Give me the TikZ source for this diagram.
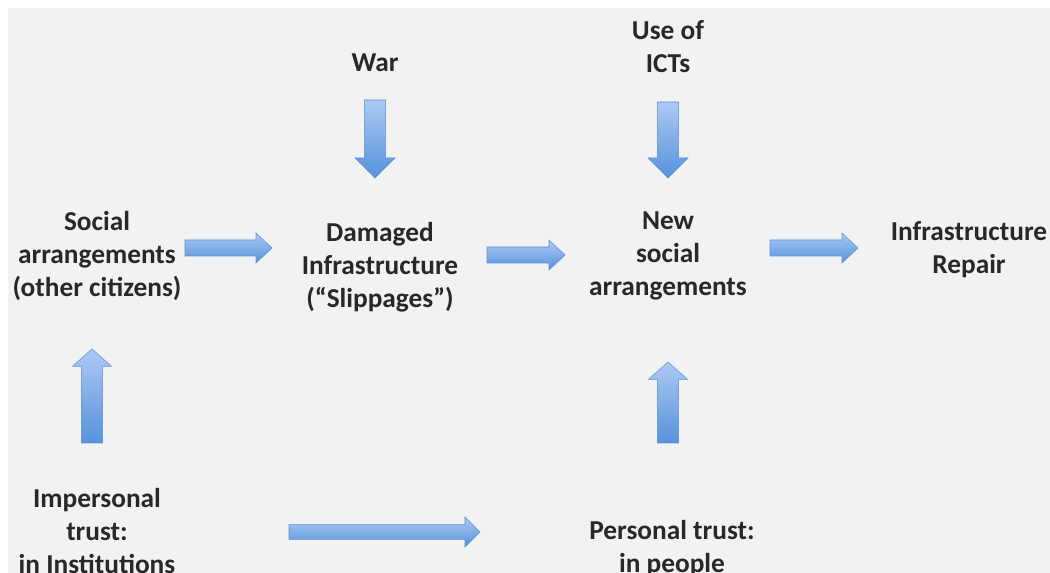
\documentclass[tikz,border=0pt]{standalone}
\usepackage{fontspec}
\setmainfont{Carlito}
\usetikzlibrary{calc}

\definecolor{panel}{RGB}{242,242,242}
\definecolor{ink}{RGB}{40,40,40}
\definecolor{arrowtop}{RGB}{172,201,243}
\definecolor{arrowbottom}{RGB}{86,146,220}
\definecolor{arrowedge}{RGB}{96,146,212}

\tikzset{
  label text/.style={font=\bfseries\fontsize{20.5pt}{24.75pt}\selectfont,
    text=ink, align=center, inner sep=0pt},
  block arrow/.style={top color=arrowtop, bottom color=arrowbottom,
    draw=arrowedge, line width=0.4pt, line join=miter},
  block shadow/.style={fill=black, opacity=0.12}
}

% block arrow from #1 to #2: shaft half width #3, head half width #4, head length #5
\newcommand\blockarrow[5]{%
  \coordinate (ba-s1) at ($(#1)!#3!90:(#2)$);
  \coordinate (ba-s2) at ($(#1)!#3!-90:(#2)$);
  \coordinate (ba-h) at ($(#2)!#5!(#1)$);
  \coordinate (ba-h1) at ($(ba-h)!#3!-90:(#2)$);
  \coordinate (ba-h2) at ($(ba-h)!#4!-90:(#2)$);
  \coordinate (ba-h3) at ($(ba-h)!#4!90:(#2)$);
  \coordinate (ba-h4) at ($(ba-h)!#3!90:(#2)$);
  \fill[block shadow, xshift=0.6pt, yshift=-1.5pt]
    (ba-s1) -- (ba-h4) -- (ba-h3) -- (#2) -- (ba-h2) -- (ba-h1) -- (ba-s2) -- cycle;
  \shade[block arrow]
    (ba-s1) -- (ba-h4) -- (ba-h3) -- (#2) -- (ba-h2) -- (ba-h1) -- (ba-s2) -- cycle;
}

\begin{document}
\begin{tikzpicture}[x=0.75pt, y=-0.75pt]
  \useasboundingbox (0,0) rectangle (1050,573);
  \clip (0,0) rectangle (1050,573);
  \fill[white] (0,0) rectangle (1050,573);
  \fill[panel] (8,8) rectangle (1050,573);

  % labels
  \node[label text] (war) at (375,63) {War};
  \node[label text] (icts) at (668,47) {Use of\\ICTs};
  \node[label text] (social) at (97,256) {Social\\arrangements\\(other citizens)};
  \node[label text] (damaged) at (380,267) {Damaged\\Infrastructure\\(“Slippages”)};
  \node[label text] (newsocial) at (668,256) {New\\social\\arrangements};
  \node[label text] (repair) at (969,250) {Infrastructure\\Repair};
  \node[label text] (impersonal) at (97,531) {Impersonal\\trust:\\in Institutions};
  \node[label text] (personal) at (672,549) {Personal trust:\\in people};

  % arrow end points
  \coordinate (war-s) at (375,100);     \coordinate (war-e) at (375,178);
  \coordinate (icts-s) at (668,102);    \coordinate (icts-e) at (668,178);
  \coordinate (soc-s) at (185,248);     \coordinate (soc-e) at (272,248);
  \coordinate (dam-s) at (487,255);     \coordinate (dam-e) at (565,255);
  \coordinate (new-s) at (770,248);     \coordinate (new-e) at (858,248);
  \coordinate (imp-s) at (92,443);      \coordinate (imp-e) at (92,349);
  \coordinate (per-s) at (668,443);     \coordinate (per-e) at (668,362);
  \coordinate (trust-s) at (289,532);   \coordinate (trust-e) at (480,532);

  \blockarrow{war-s}{war-e}{7.9pt}{15pt}{15pt}
  \blockarrow{icts-s}{icts-e}{7.9pt}{15pt}{15pt}
  \blockarrow{soc-s}{soc-e}{6pt}{11.25pt}{12pt}
  \blockarrow{dam-s}{dam-e}{6pt}{11.25pt}{12pt}
  \blockarrow{new-s}{new-e}{6pt}{11.25pt}{12pt}
  \blockarrow{imp-s}{imp-e}{7.9pt}{14.6pt}{13pt}
  \blockarrow{per-s}{per-e}{7.9pt}{14.6pt}{13pt}
  \blockarrow{trust-s}{trust-e}{5.6pt}{11.25pt}{11.25pt}
\end{tikzpicture}
\end{document}
